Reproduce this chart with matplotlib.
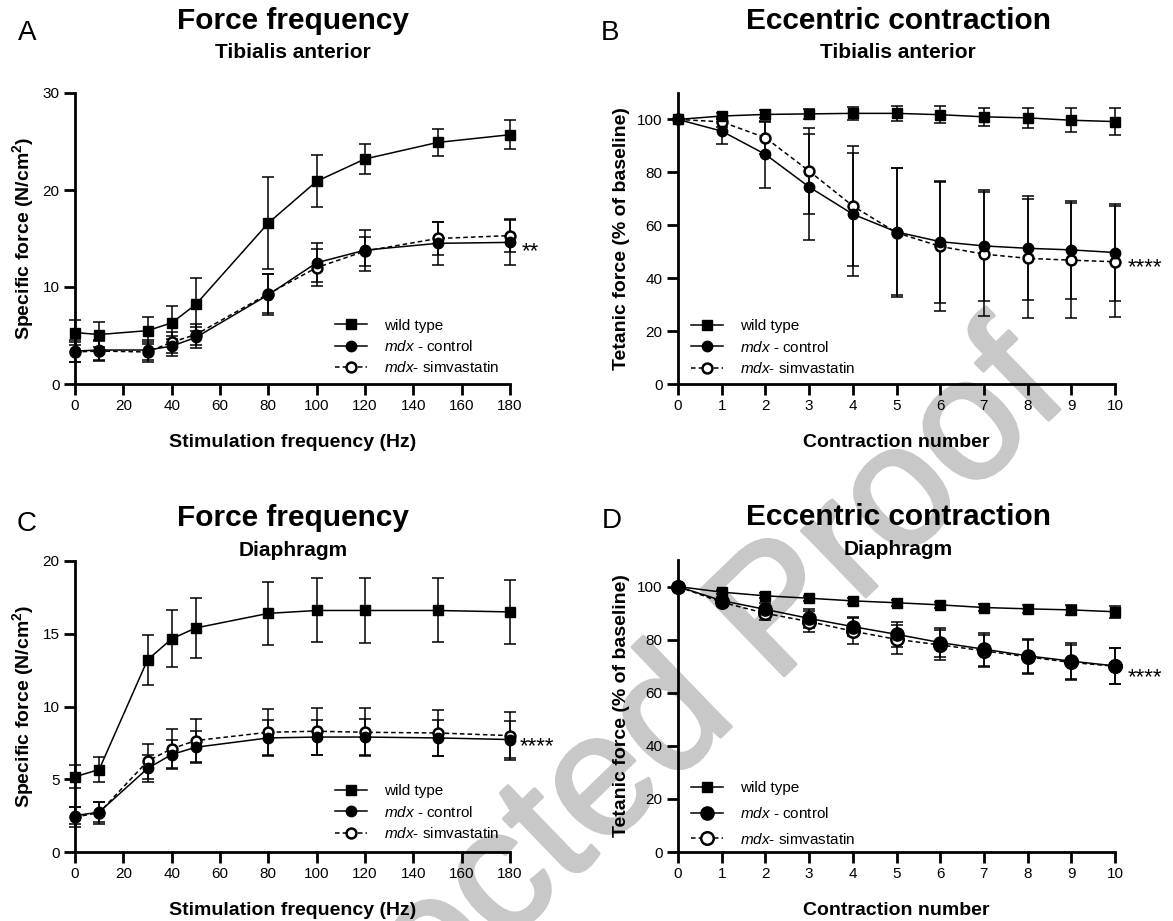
import matplotlib
matplotlib.use("Agg")
import matplotlib.pyplot as plt
import matplotlib.patheffects as pe

plt.rcParams['font.family'] = 'Liberation Sans'
plt.rcParams['mathtext.fontset'] = 'custom'
plt.rcParams['mathtext.rm'] = 'Liberation Sans'
plt.rcParams['mathtext.it'] = 'Liberation Sans:italic'
plt.rcParams['mathtext.bf'] = 'Liberation Sans:bold'

# ---- data ----
freq = [0, 10, 30, 40, 50, 80, 100, 120, 150, 180]
contraction = [0, 1, 2, 3, 4, 5, 6, 7, 8, 9, 10]
labels = ['wild type', r'$\mathit{mdx}$ - control', r'$\mathit{mdx}$- simvastatin']

# A: force frequency, tibialis anterior
A_wt = [5.3, 5.1, 5.5, 6.3, 8.2, 16.6, 20.9, 23.2, 24.9, 25.7]
A_wt_sd = [1.3, 1.3, 1.4, 1.7, 2.7, 4.7, 2.7, 1.5, 1.4, 1.5]
A_ctrl = [3.4, 3.5, 3.5, 3.9, 4.8, 9.2, 12.5, 13.8, 14.5, 14.6]
A_ctrl_sd = [1.1, 1.0, 1.0, 1.0, 1.1, 2.1, 2.0, 2.1, 2.2, 2.3]
A_simv = [3.3, 3.4, 3.3, 4.3, 5.1, 9.3, 12.0, 13.7, 15.0, 15.3]
A_simv_sd = [1.0, 1.0, 1.0, 1.1, 1.1, 2.0, 1.9, 1.5, 1.7, 1.7]

# B: eccentric contraction, tibialis anterior
B_wt = [100, 101.3, 101.9, 102.1, 102.3, 102.3, 101.8, 101.0, 100.6, 99.7, 99.2]
B_wt_sd = [0, 1.0, 1.5, 2.0, 2.4, 2.7, 3.2, 3.5, 3.8, 4.5, 5.1]
B_ctrl = [100, 95.6, 86.8, 74.5, 64.2, 57.5, 53.8, 52.2, 51.3, 50.7, 49.7]
B_ctrl_sd = [0, 4.7, 12.8, 20.0, 23.2, 24.0, 23.0, 21.0, 19.6, 18.6, 18.2]
B_simv = [100, 99.1, 93.1, 80.5, 67.3, 57.2, 52.0, 49.1, 47.5, 46.8, 46.2]
B_simv_sd = [0, 2.0, 6.0, 16.3, 22.8, 24.5, 24.5, 23.5, 22.4, 21.7, 21.0]

# C: force frequency, diaphragm
C_wt = [5.17, 5.67, 13.2, 14.65, 15.4, 16.4, 16.6, 16.6, 16.6, 16.5]
C_wt_sd = [0.8, 0.85, 1.7, 1.95, 2.05, 2.15, 2.2, 2.25, 2.2, 2.2]
C_ctrl = [2.5, 2.74, 5.74, 6.7, 7.2, 7.84, 7.9, 7.9, 7.84, 7.73]
C_ctrl_sd = [0.6, 0.7, 0.95, 1.0, 1.1, 1.2, 1.2, 1.25, 1.25, 1.3]
C_simv = [2.4, 2.7, 6.24, 7.1, 7.66, 8.23, 8.3, 8.23, 8.18, 8.0]
C_simv_sd = [0.7, 0.75, 1.2, 1.35, 1.5, 1.6, 1.6, 1.65, 1.6, 1.65]

# D: eccentric contraction, diaphragm
D_wt = [100, 97.9, 96.5, 95.6, 94.6, 93.9, 93.1, 92.1, 91.6, 91.2, 90.5]
D_wt_sd = [0, 0.8, 0.9, 1.0, 1.0, 1.1, 1.2, 1.4, 1.6, 1.8, 2.3]
D_ctrl = [100, 94.7, 91.4, 88.0, 84.9, 82.0, 78.9, 76.4, 73.9, 71.9, 70.1]
D_ctrl_sd = [0, 1.5, 2.3, 3.5, 3.7, 4.8, 5.6, 6.2, 6.5, 6.9, 6.8]
D_simv = [100, 94.1, 89.9, 86.8, 83.2, 80.1, 78.0, 75.8, 73.5, 71.4, 70.0]
D_simv_sd = [0, 1.5, 2.5, 4.1, 4.9, 5.6, 5.7, 6.0, 6.5, 6.7, 6.8]


def panel(ax, x, wt, wt_sd, ctrl, ctrl_sd, simv, simv_sd, circ=7.5):
    err = dict(fmt='none', ecolor='black', elinewidth=1.1, capsize=4, capthick=1.1,
               clip_on=False, zorder=2)
    ax.errorbar(x, simv, yerr=simv_sd, **err)
    ax.errorbar(x, ctrl, yerr=ctrl_sd, **err)
    ax.errorbar(x, wt, yerr=wt_sd, **err)
    h_simv, = ax.plot(x, simv, color='black', lw=1.1, ls=(0, (3, 2)), marker='o', ms=circ * 0.95,
                      mfc='white', mec='black', mew=1.8, clip_on=False, zorder=3)
    h_ctrl, = ax.plot(x, ctrl, color='black', lw=1.1, marker='o', ms=circ,
                      clip_on=False, zorder=4)
    h_wt, = ax.plot(x, wt, color='black', lw=1.1, marker='s', ms=7.5,
                    clip_on=False, zorder=5)
    for s in ['top', 'right']:
        ax.spines[s].set_visible(False)
    for s in ['left', 'bottom']:
        ax.spines[s].set_linewidth(2)
    ax.tick_params(width=2, length=8, labelsize=11, pad=3)
    ax.set_facecolor('none')
    return [h_wt, h_ctrl, h_simv]


fig = plt.figure(figsize=(11.73, 9.21), dpi=100)
W, H = 1173.0, 921.0


def add_ax(x0, x1, y_top, y_bot):
    return fig.add_axes([x0 / W, 1 - y_bot / H, (x1 - x0) / W, (y_bot - y_top) / H])


axA = add_ax(75, 510, 93, 384)
axB = add_ax(678, 1115, 93, 384)
axC = add_ax(75, 510, 561, 852)
axD = add_ax(678, 1115, 560, 852)

hA = panel(axA, freq, A_wt, A_wt_sd, A_ctrl, A_ctrl_sd, A_simv, A_simv_sd)
hB = panel(axB, contraction, B_wt, B_wt_sd, B_ctrl, B_ctrl_sd, B_simv, B_simv_sd)
hC = panel(axC, freq, C_wt, C_wt_sd, C_ctrl, C_ctrl_sd, C_simv, C_simv_sd)
hD = panel(axD, contraction, D_wt, D_wt_sd, D_ctrl, D_ctrl_sd, D_simv, D_simv_sd, circ=9.5)

for ax in (axA, axC):
    ax.set_xlim(0, 180)
    ax.set_xticks(range(0, 181, 20))
    ax.set_xlabel('Stimulation frequency (Hz)', fontsize=14, fontweight='bold', labelpad=15)
    ax.set_ylabel(r'Specific force (N/cm$^{\mathbf{2}}$)', fontsize=14, fontweight='bold', labelpad=5)
axA.set_ylim(0, 30)
axA.set_yticks([0, 10, 20, 30])
axC.set_ylim(0, 20)
axC.set_yticks([0, 5, 10, 15, 20])

for ax in (axB, axD):
    ax.set_xlim(0, 10)
    ax.set_xticks(contraction)
    ax.set_ylim(0, 110)
    ax.set_yticks([0, 20, 40, 60, 80, 100])
    ax.set_xlabel('Contraction number', fontsize=14, fontweight='bold', labelpad=15)
    ax.set_ylabel('Tetanic force (% of baseline)', fontsize=14, fontweight='bold', labelpad=5)

leg_kw = dict(frameon=False, fontsize=11, handlelength=2.1, handletextpad=1.1,
              loc='upper left', borderpad=0, borderaxespad=0)
axA.legend(hA, labels, bbox_to_anchor=(0.597, 0.225), labelspacing=0.42, **leg_kw)
axB.legend(hB, labels, bbox_to_anchor=(0.03, 0.222), labelspacing=0.42, **leg_kw)
axC.legend(hC, labels, bbox_to_anchor=(0.597, 0.233), labelspacing=0.42, **leg_kw)
axD.legend(hD, labels, bbox_to_anchor=(0.03, 0.242), labelspacing=0.7, **leg_kw)

# significance stars
star_kw = dict(textcoords='offset points', xytext=(0, -9.5), fontsize=16,
               va='baseline', ha='left', annotation_clip=False)
axA.annotate('**', xy=(185, 14.4), **star_kw)
axB.annotate('****', xy=(10.28, 46.8), **star_kw)
axC.annotate('****', xy=(184, 7.8), **star_kw)
axD.annotate('****', xy=(10.28, 68.7), **star_kw)

# titles and panel letters
titles = [('A', 27, 293, 'Force frequency', 'Tibialis anterior', 21, 52, 33),
          ('B', 610, 898, 'Eccentric contraction', 'Tibialis anterior', 21, 52, 33),
          ('C', 27, 293, 'Force frequency', 'Diaphragm', 518, 550, 524),
          ('D', 612, 898, 'Eccentric contraction', 'Diaphragm', 517, 549, 521)]
for letter, lx, cx, title, sub, ty, sy, ly in titles:
    fig.text(lx / W, 1 - ly / H, letter, fontsize=20, ha='center', va='center')
    fig.text(cx / W, 1 - ty / H, title, fontsize=21.5, fontweight='bold', ha='center', va='center')
    fig.text(cx / W, 1 - sy / H, sub, fontsize=15, fontweight='bold', ha='center', va='center')

# watermark
fig.text(600 / W, 1 - 790 / H, 'Corrected Proof', fontsize=125, color='#c8c8c8',
         rotation=44, rotation_mode='anchor', ha='center', va='center', zorder=-1,
         path_effects=[pe.withStroke(linewidth=2.5, foreground='#c8c8c8')])

fig.savefig('out.png', dpi=100)
